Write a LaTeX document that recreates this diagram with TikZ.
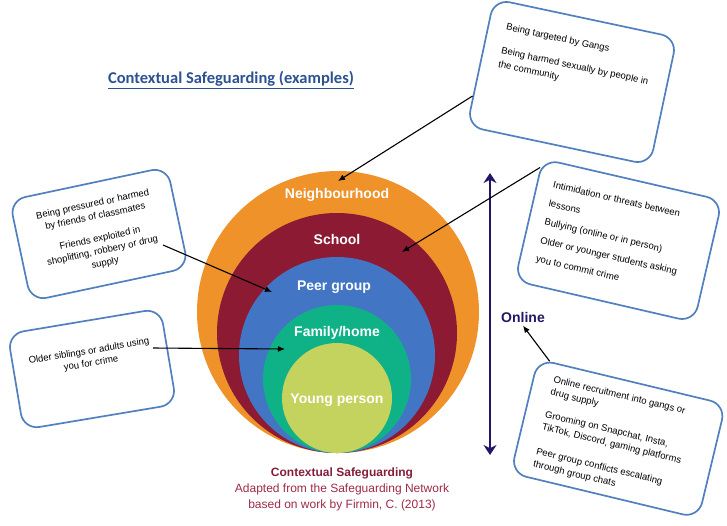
\documentclass[tikz,border=0pt]{standalone}
\usepackage{fontspec}
\setmainfont{Liberation Sans}
\newfontfamily\headfont{Carlito}
\usepackage{xcolor}
\usetikzlibrary{arrows.meta, calc}

\definecolor{hoodorange}{RGB}{240,146,42}
\definecolor{schoolred}{RGB}{140,26,50}
\definecolor{peerblue}{RGB}{66,118,196}
\definecolor{homegreen}{RGB}{14,178,134}
\definecolor{youthlime}{RGB}{196,210,94}
\definecolor{boxblue}{RGB}{82,128,190}
\definecolor{titleblue}{RGB}{44,82,146}
\definecolor{onlinenavy}{RGB}{38,20,102}
\definecolor{capmaroon}{RGB}{132,30,58}
\definecolor{caprose}{RGB}{158,42,72}

\begin{document}
\begin{tikzpicture}[x=1pt, y=-1pt,
        ring/.style={font=\fontsize{14}{16}\selectfont\bfseries, text=white},
        casebox/.style={draw=boxblue, line width=1.7pt, rounded corners=16pt},
        link/.style={line width=1.1pt, -{Latex[length=7pt,width=6pt]}}]
                \useasboundingbox (0,0) rectangle (727,525);
                \coordinate (Ohood) at (338,312);
                \coordinate (Oschool) at (337,333);
                \coordinate (Opeer) at (337,355);
                \coordinate (Ohome) at (337,379);
                \coordinate (Oyouth) at (337,398);
                \fill[hoodorange] (Ohood) circle (141pt);
                \fill[schoolred] (Oschool) circle (120pt);
                \fill[peerblue] (Opeer) circle (98pt);
                \fill[homegreen] (Ohome) circle (74pt);
                \fill[youthlime] (Oyouth) circle (55pt);
                \node[ring] (hood) at (337,195) {Neighbourhood};
                \node[ring] (school) at (337,239) {School};
                \node[ring] (peer) at (334,287) {Peer group};
                \node[ring] (home) at (337,333) {Family/home};
                \node[ring] (youth) at (337,400) {Young person};
                \node[text=titleblue, font=\headfont\bfseries\fontsize{16.5}{20}\selectfont] (title) at (231,80)
                    {\underline{Contextual Safeguarding (examples)}};
                \node[align=center, text=caprose, font=\fontsize{12}{16}\selectfont] (credit) at (342,489)
                    {{\bfseries\color{capmaroon}Contextual Safeguarding}\\ Adapted from the Safeguarding Network\\ based on work by Firmin, C. (2013)};
                \node[casebox, rotate=-12, inner xsep=18pt, inner ysep=21pt] (gangsbox) at (572,82)
                    {\parbox[c][88pt][t]{151pt}{\fontsize{9.5}{14}\selectfont\raggedright
                    Being targeted by Gangs\\[10pt] Being harmed sexually by people in\\ the community}};
                \node[casebox, rotate=12, inner sep=10pt] (friendsbox) at (99,234)
                    {\parbox[c][83pt][c]{141pt}{\fontsize{9.5}{12.5}\selectfont\centering
                    Being pressured or harmed\\ by friends of classmates\\[10pt] Friends exploited in\\ shoplifting, robbery or drug\\ supply}};
                \node[casebox, rotate=9.5, inner sep=10pt] (familybox) at (92,369)
                    {\parbox[c][77pt][c]{135pt}{\fontsize{9.5}{12.5}\selectfont\centering
                    Older siblings or adults using\\ you for crime\\[23pt]}};
                \node[casebox, rotate=-13, inner xsep=16pt, inner ysep=19pt] (schoolbox) at (618.5,240.6)
                    {\parbox[c][87pt][t]{152pt}{\fontsize{9.5}{19}\selectfont\raggedright
                    Intimidation or threats between\\ lessons\\ Bullying (online or in person)\\ Older or younger students asking\\ you to commit crime}};
                \node[casebox, rotate=-13.5, inner xsep=20pt, inner ysep=12pt] (webbox) at (618.2,438.7)
                    {\parbox[c][93pt][t]{153pt}{\fontsize{9.5}{13}\selectfont\raggedright
                    Online recruitment into gangs or\\ drug supply\\[10pt] Grooming on Snapchat, Insta,\\ TikTok, Discord, gaming platforms\\[12pt] Peer group conflicts escalating\\ through group chats}};
                \node[font=\fontsize{14}{16}\selectfont\bfseries, text=onlinenavy] (web) at (523,317) {Online};
                \coordinate (webtop) at (490,173);
                \coordinate (webbottom) at (490,455);
                \draw[onlinenavy, line width=2.8pt, {Stealth[length=10pt,width=13pt]}-{Stealth[length=10pt,width=13pt]}] (webtop) -- (webbottom);
                \coordinate (hoodtip) at (338,181);
                \coordinate (schooltip) at (402,252);
                \coordinate (friendsend) at (163,245);
                \coordinate (peertip) at (272,292);
                \coordinate (familyend) at (153,348);
                \coordinate (hometip) at (285,349);
                \draw[link] (gangsbox.200) -- (hoodtip);
                \draw[link] (schoolbox.150) -- (schooltip);
                \draw[link] (friendsend) -- (peertip);
                \draw[link] (familyend) -- (hometip);
                \draw[link] (webbox.145) -- (web.south);
            \end{tikzpicture}
\end{document}
